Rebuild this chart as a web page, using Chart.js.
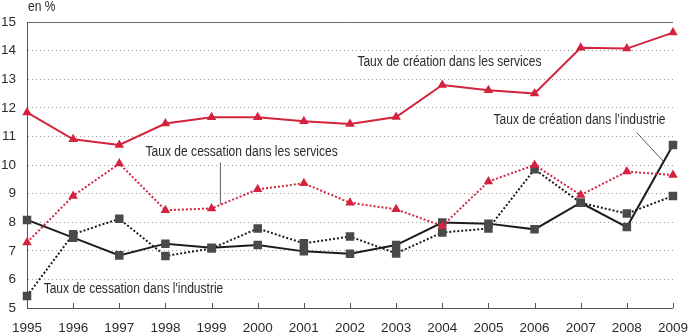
<!DOCTYPE html>
<html>
<head>
<meta charset="utf-8">
<script src="https://cdn.jsdelivr.net/npm/chart.js@4/dist/chart.umd.min.js"></script>
<style>
  html, body { margin: 0; padding: 0; background: #fff; }
  #wrap { width: 700px; height: 333px; }
</style>
</head>
<body>
<div id="wrap"><canvas id="c" width="700" height="333"></canvas></div>
<script>
const years = ['1995','1996','1997','1998','1999','2000','2001','2002','2003','2004','2005','2006','2007','2008','2009'];
const creationServices   = [11.84, 10.90, 10.70, 11.45, 11.67, 11.67, 11.53, 11.43, 11.68, 12.80, 12.61, 12.50, 14.10, 14.07, 14.63];
const cessationServices  = [7.29, 8.92, 10.05, 8.42, 8.48, 9.15, 9.36, 8.68, 8.45, 7.87, 9.42, 10.00, 8.95, 9.77, 9.65];
const creationIndustrie  = [8.08, 7.46, 6.84, 7.25, 7.11, 7.20, 6.98, 6.90, 7.20, 7.99, 7.95, 7.75, 8.68, 7.83, 10.70];
const cessationIndustrie = [5.42, 7.58, 8.12, 6.82, 7.08, 7.78, 7.26, 7.50, 6.91, 7.64, 7.78, 9.85, 8.68, 8.30, 8.92];
const yTicks = [5, 6, 7, 8, 9, 10, 11, 12, 13, 14, 15];
const unitLabel = 'en %';
const seriesNames = [
  'Taux de création dans les services',
  'Taux de cessation dans les services',
  'Taux de création dans l\u2019industrie',
  'Taux de cessation dans l\'industrie'
];

const FONT = '"Liberation Sans", Arial, sans-serif';
const TEXT = '#2b2b2b';
const RED = '#d3233f';
const BLACK = '#1c1c1c';
const SQ = '#4a4a4a';
const SQUEEZE = 0.86;

// annotation placement (category index, value)
const labelsPos = [
  { text: seriesNames[0], x: 7.16, y: 13.59 },
  { text: seriesNames[2], x: 10.11, y: 11.56 },
  { text: seriesNames[1], x: 2.57, y: 10.44 },
  { text: seriesNames[3], x: 0.36, y: 5.65 }
];
const leaders = [
  { x1: 13.21, y1: 11.14, x2: 13.79, y2: 10.13 },
  { x1: 4.19, y1: 10.09, x2: 4.19, y2: 8.63 }
];

function squeezedText(ctx, text, x, y, bg) {
  ctx.save();
  ctx.translate(x, y);
  ctx.scale(SQUEEZE, 1);
  if (bg) {
    const w = ctx.measureText(text).width;
    ctx.fillStyle = '#fff';
    ctx.fillRect(-2, -8, w + 4, 16);
  }
  ctx.fillStyle = TEXT;
  ctx.fillText(text, 0, 0);
  ctx.restore();
}

const annotPlugin = {
  id: 'annot',
  afterDraw(chart) {
    const ctx = chart.ctx, xs = chart.scales.x, ys = chart.scales.y, ca = chart.chartArea;
    ctx.save();
    // x ticks pointing up
    ctx.strokeStyle = '#555';
    ctx.lineWidth = 1;
    xs.ticks.forEach((t, i) => {
      const px = Math.round(xs.getPixelForTick(i)) + 0.5;
      ctx.beginPath();
      ctx.moveTo(px, ca.bottom);
      ctx.lineTo(px, ca.bottom - 5);
      ctx.stroke();
    });
    // leader lines
    ctx.strokeStyle = '#333';
    ctx.lineWidth = 0.8;
    leaders.forEach(l => {
      ctx.beginPath();
      ctx.moveTo(xs.getPixelForValue(l.x1), ys.getPixelForValue(l.y1));
      ctx.lineTo(xs.getPixelForValue(l.x2), ys.getPixelForValue(l.y2));
      ctx.stroke();
    });
    ctx.font = '14px ' + FONT;
    ctx.textBaseline = 'middle';
    ctx.textAlign = 'left';
    labelsPos.forEach(a => {
      squeezedText(ctx, a.text, xs.getPixelForValue(a.x), ys.getPixelForValue(a.y), true);
    });
    squeezedText(ctx, unitLabel, ca.left + 1, ca.top - 15, false);
    ctx.restore();
  }
};

new Chart(document.getElementById('c'), {
  type: 'line',
  data: {
    labels: years,
    datasets: [
      { label: seriesNames[0], data: creationServices, borderColor: RED, backgroundColor: RED,
        borderWidth: 2, pointStyle: 'triangle', pointRadius: 3.5, tension: 0 },
      { label: seriesNames[1], data: cessationServices, borderColor: RED, backgroundColor: RED,
        borderWidth: 2, borderDash: [2, 2], pointStyle: 'triangle', pointRadius: 3.5, tension: 0 },
      { label: seriesNames[2], data: creationIndustrie, borderColor: BLACK, backgroundColor: SQ,
        pointBorderColor: SQ, borderWidth: 2, pointStyle: 'rect', pointRadius: 4.6, tension: 0 },
      { label: seriesNames[3], data: cessationIndustrie, borderColor: BLACK, backgroundColor: SQ,
        pointBorderColor: SQ, borderWidth: 2, borderDash: [2, 2], pointStyle: 'rect', pointRadius: 4.6, tension: 0 }
    ]
  },
  options: {
    responsive: false,
    animation: false,
    devicePixelRatio: 1,
    layout: { padding: { top: 22, right: 15, left: 0, bottom: 0 } },
    plugins: { legend: { display: false }, tooltip: { enabled: false } },
    scales: {
      x: {
        offset: false,
        afterFit(s) { s.height = 25; },
        grid: { display: true, drawOnChartArea: false, drawTicks: false },
        border: { display: true, color: '#555', width: 1 },
        ticks: { color: TEXT, font: { family: FONT, size: 13.5 }, padding: 12, maxRotation: 0, autoSkip: false }
      },
      y: {
        min: 5, max: 15,
        afterFit(s) { s.width = 26; },
        afterBuildTicks(s) { s.ticks = yTicks.map(v => ({ value: v })); },
        grid: {
          drawTicks: false,
          color: c => c.tick && c.tick.value === 15 ? '#666' : (c.tick && c.tick.value === 5 ? 'rgba(0,0,0,0)' : '#9a9a9a'),
          lineWidth: 1
        },
        border: { display: true, color: '#555', width: 1,
          dash: c => (c.tick && c.tick.value === 15) ? [] : [1, 3] },
        ticks: { color: TEXT, font: { family: FONT, size: 13.5 }, padding: 11 }
      }
    }
  },
  plugins: [annotPlugin]
});
</script>
</body>
</html>
